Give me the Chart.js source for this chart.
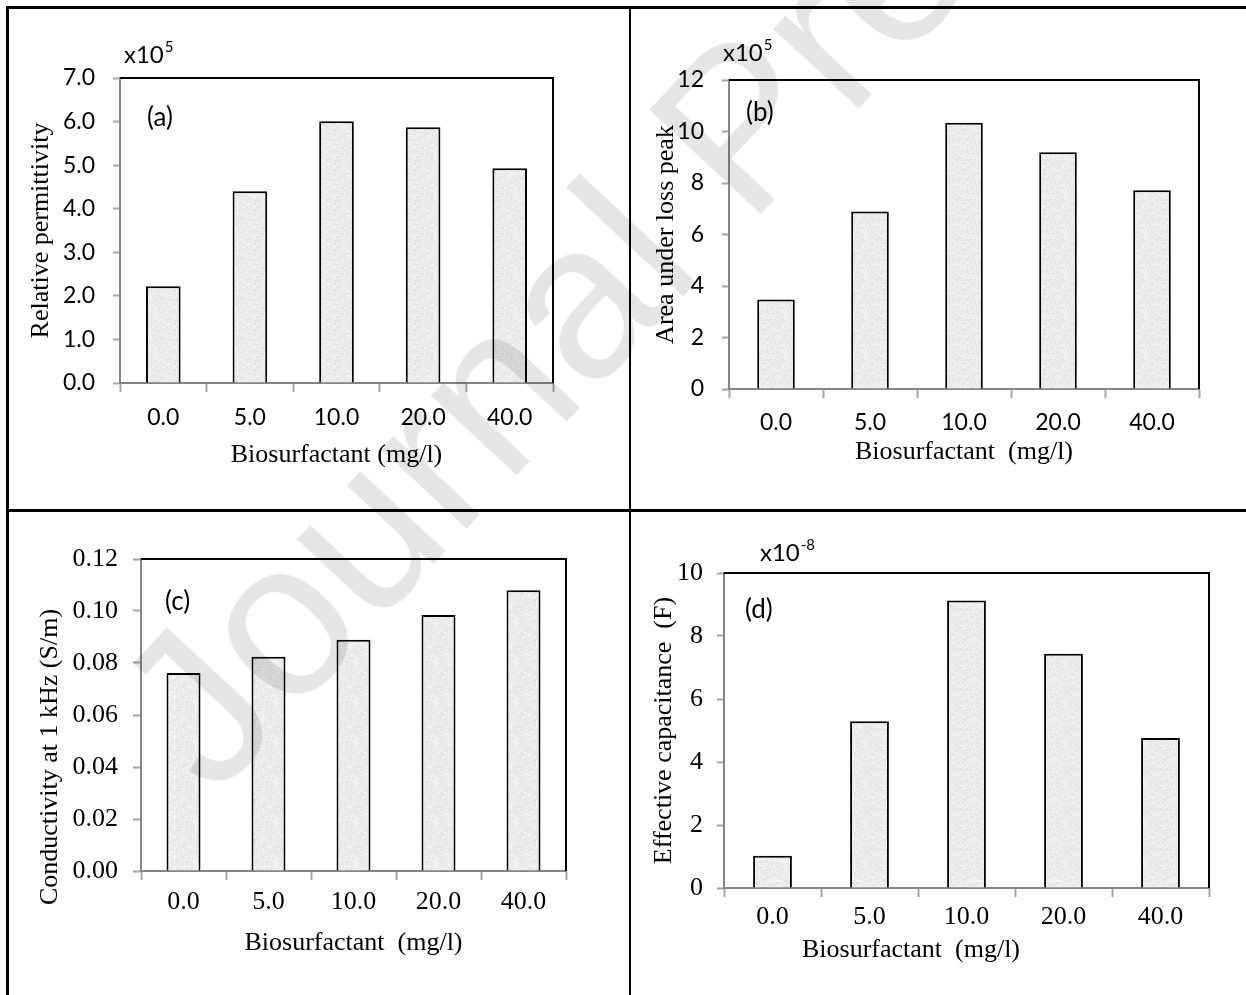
<!DOCTYPE html>
<html>
<head>
<meta charset="utf-8">
<title>Biosurfactant - dielectric properties</title>
<script src="https://cdn.jsdelivr.net/npm/chart.js"></script>
<style>
  html, body { margin: 0; padding: 0; background: #fff; }
  #page { position: relative; width: 1246px; height: 995px; overflow: hidden; background: #fff; }
  #page canvas { position: absolute; }
  .rule { position: absolute; background: #000; }
  #watermark {
    position: absolute; left: 215px; top: 800px;
    font: 220px "Liberation Sans", Arial, sans-serif; line-height: 1;
    white-space: nowrap; color: rgba(0, 0, 0, 0.1);
    transform-origin: 0 0; transform: rotate(-47deg) translateY(-0.85em);
    pointer-events: none;
  }
</style>
</head>
<body>
<div id="page">
  <canvas id="chartA" width="630" height="510" style="left:0;top:0"></canvas>
  <canvas id="chartB" width="616" height="510" style="left:630px;top:0"></canvas>
  <canvas id="chartC" width="630" height="485" style="left:0;top:510px"></canvas>
  <canvas id="chartD" width="616" height="485" style="left:630px;top:510px"></canvas>
  <div class="rule" style="left:6px;top:6px;width:1240px;height:3px"></div>
  <div class="rule" style="left:6px;top:6px;width:3px;height:989px"></div>
  <div class="rule" style="left:629px;top:6px;width:2px;height:989px"></div>
  <div class="rule" style="left:6px;top:509px;width:1240px;height:3px"></div>
  <div id="watermark">Journal Pre-proof</div>
</div>
<script>
// x axis: biosurfactant dose (mg/l)
const doseLabels = ['0.0', '5.0', '10.0', '20.0', '40.0'];

// (a) relative permittivity, x10^5
const permittivity = [2.22, 4.40, 6.01, 5.87, 4.93];
const permittivityTicks = [0, 1, 2, 3, 4, 5, 6, 7];

// (b) area under loss peak, x10^5
const lossPeakArea = [3.48, 6.89, 10.34, 9.19, 7.72];
const lossPeakTicks = [0, 2, 4, 6, 8, 10, 12];

// (c) conductivity at 1 kHz (S/m)
const conductivity = [0.0762, 0.0824, 0.0889, 0.0985, 0.1080];
const conductivityTicks = [0, 0.02, 0.04, 0.06, 0.08, 0.10, 0.12];

// (d) effective capacitance (F), x10^-8
const capacitance = [1.02, 5.29, 9.13, 7.44, 4.76];
const capacitanceTicks = [0, 2, 4, 6, 8, 10];

const SANS = 'Lato, "Open Sans", sans-serif';
const SERIF = '"Liberation Serif", "DejaVu Serif", serif';

// light grey speckled fill like the original bars
function speckleFill() {
  const c = document.createElement('canvas');
  c.width = c.height = 40;
  const g = c.getContext('2d');
  const img = g.createImageData(40, 40);
  let seed = 12345;
  for (let i = 0; i < img.data.length; i += 4) {
    seed = (seed * 16807) % 2147483647;
    const v = 226 + (seed % 20);
    img.data[i] = img.data[i + 1] = img.data[i + 2] = v;
    img.data[i + 3] = 255;
  }
  g.putImageData(img, 0, 0);
  return g.createPattern(c, 'repeat');
}
const barFill = speckleFill();

// black frame on top / right of the plot area
const plotFrame = {
  id: 'plotFrame',
  beforeDatasetsDraw(chart) {
    const { ctx, chartArea: a } = chart;
    ctx.save();
    ctx.strokeStyle = '#000';
    ctx.lineWidth = 2;
    ctx.beginPath();
    ctx.moveTo(a.left, a.top);
    ctx.lineTo(a.right, a.top);
    ctx.lineTo(a.right, a.bottom);
    ctx.stroke();
    ctx.restore();
  }
};

// free text: panel letters, multipliers, off-centre titles
const panelText = {
  id: 'panelText',
  afterDraw(chart, args, opts) {
    const { ctx, chartArea: a } = chart;
    (opts.items || []).forEach(function (it) {
      ctx.save();
      ctx.translate(a.left + it.dx, a.top + it.dy);
      if (it.rotate) ctx.rotate(it.rotate);
      ctx.fillStyle = '#000';
      ctx.textBaseline = 'middle';
      ctx.textAlign = it.align || 'left';
      ctx.font = it.font;
      ctx.fillText(it.text, 0, 0);
      if (it.sup) {
        const w = ctx.measureText(it.text).width;
        ctx.font = it.supFont;
        ctx.fillText(it.sup, w + 1, -it.supRise);
      }
      ctx.restore();
    });
  }
};

function barPanel(id, p) {
  const canvas = document.getElementById(id);
  const W = canvas.width, H = canvas.height;
  const area = p.area;
  return new Chart(canvas, {
    type: 'bar',
    data: {
      labels: doseLabels,
      datasets: [{
        data: p.values,
        backgroundColor: barFill,
        borderColor: '#000',
        borderWidth: 2,
        borderSkipped: 'bottom',
        barPercentage: 0.4,
        categoryPercentage: 1
      }]
    },
    options: {
      responsive: false,
      animation: false,
      devicePixelRatio: 1,
      layout: { padding: { left: 0, top: area.top, right: W - area.right, bottom: 0 } },
      plugins: {
        legend: { display: false },
        tooltip: { enabled: false },
        panelText: { items: p.texts }
      },
      scales: {
        x: {
          offset: true,
          afterFit: function (s) { s.height = H - area.bottom; },
          grid: { offset: true, drawOnChartArea: false, tickLength: 9, color: '#a6a6a6', tickWidth: 2 },
          border: { color: '#868686', width: 2 },
          ticks: { font: p.xTickFont, color: '#000', padding: p.xTickPad, maxRotation: 0, autoSkip: false },
          title: {
            display: !!p.xTitle,
            text: p.xTitle,
            color: '#000',
            font: { family: SERIF, size: 26 },
            padding: { top: 0, bottom: p.xTitlePad }
          }
        },
        y: {
          min: p.yTicks[0],
          max: p.yTicks[p.yTicks.length - 1],
          afterFit: function (s) { s.width = area.left; },
          afterBuildTicks: function (s) { s.ticks = p.yTicks.map(function (v) { return { value: v }; }); },
          grid: { drawOnChartArea: false, tickLength: p.yTickLen, color: '#a6a6a6', tickWidth: 2 },
          border: { color: '#868686', width: 2 },
          ticks: {
            font: p.yTickFont,
            color: '#000',
            padding: p.yTickPad,
            callback: function (v) { return Number(v).toFixed(p.decimals); }
          },
          title: {
            display: !!p.yTitle,
            text: p.yTitle,
            color: '#000',
            font: { family: SERIF, size: 26 },
            padding: { top: p.yTitlePad, bottom: 0 }
          }
        }
      }
    },
    plugins: [plotFrame, panelText]
  });
}

document.addEventListener('DOMContentLoaded', function () {
  const sansTick = { family: SANS, size: 23 };
  const serifTick = { family: SERIF, size: 26 };
  const letterFont = '26px ' + SANS;
  const multFont = '24px ' + SANS;
  const supFont = '15px ' + SANS;

  barPanel('chartA', {
    values: permittivity, yTicks: permittivityTicks, decimals: 1,
    area: { left: 120, top: 78, right: 553, bottom: 383 },
    yTickFont: sansTick, yTickPad: 18, yTickLen: 7,
    yTitle: 'Relative permittivity', yTitlePad: 26,
    xTickFont: sansTick, xTickPad: 12,
    xTitle: 'Biosurfactant (mg/l)', xTitlePad: 39,
    texts: [
      { text: 'x10', sup: '5', font: multFont, supFont: supFont, supRise: 8, dx: 4, dy: -23 },
      { text: '(a)', font: letterFont, dx: 27, dy: 40 }
    ]
  });

  barPanel('chartB', {
    values: lossPeakArea, yTicks: lossPeakTicks, decimals: 0,
    area: { left: 99, top: 80, right: 569, bottom: 389 },
    yTickFont: sansTick, yTickPad: 18, yTickLen: 7,
    yTitle: 'Area under loss peak', yTitlePad: 21,
    xTickFont: sansTick, xTickPad: 11,
    xTitle: 'Biosurfactant  (mg/l)', xTitlePad: 42,
    texts: [
      { text: 'x10', sup: '5', font: multFont, supFont: supFont, supRise: 8, dx: -6, dy: -27 },
      { text: '(b)', font: letterFont, dx: 17, dy: 33 }
    ]
  });

  barPanel('chartC', {
    values: conductivity, yTicks: conductivityTicks, decimals: 2,
    area: { left: 141, top: 49, right: 566, bottom: 361 },
    yTickFont: serifTick, yTickPad: 15, yTickLen: 8,
    yTitle: null,
    xTickFont: serifTick, xTickPad: 7,
    xTitle: 'Biosurfactant  (mg/l)', xTitlePad: 36,
    texts: [
      { text: '(c)', font: letterFont, dx: 24, dy: 43 },
      { text: 'Conductivity at 1 kHz (S/m)', font: '26px ' + SERIF, align: 'center', rotate: -Math.PI / 2, dx: -91, dy: 198 }
    ]
  });

  barPanel('chartD', {
    values: capacitance, yTicks: capacitanceTicks, decimals: 0,
    area: { left: 94, top: 63, right: 579, bottom: 378 },
    yTickFont: serifTick, yTickPad: 14, yTickLen: 7,
    yTitle: 'Effective capacitance  (F)', yTitlePad: 19,
    xTickFont: serifTick, xTickPad: 5,
    xTitle: null,
    texts: [
      { text: 'x10', sup: '-8', font: multFont, supFont: supFont, supRise: 8, dx: 36, dy: -20 },
      { text: '(d)', font: letterFont, dx: 21, dy: 37 },
      { text: 'Biosurfactant  (mg/l)', font: '26px ' + SERIF, align: 'center', dx: 187, dy: 377 }
    ]
  });
});
</script>
</body>
</html>
